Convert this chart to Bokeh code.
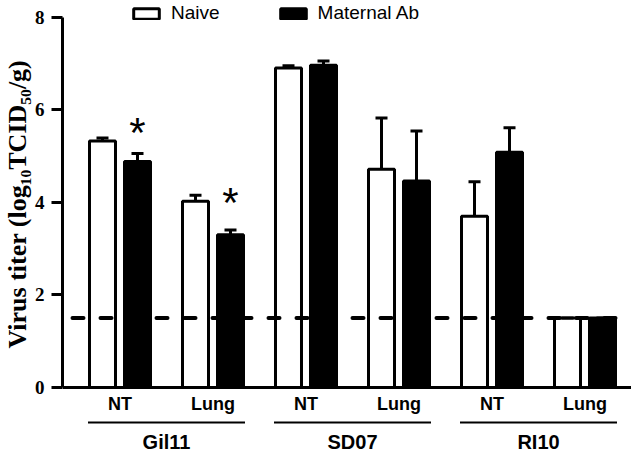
import pandas as pd
from bokeh.plotting import figure
from bokeh.models import (ColumnDataSource, FactorRange, Range1d, FixedTicker, Span,
                          Legend, LegendItem, Title)
from bokeh.transform import dodge
from bokeh.core.properties import value
from bokeh.embed import file_html
from bokeh.resources import INLINE

# ---------------- data ----------------
groups = ["Gil11", "SD07", "RI10"]
tissues = ["NT", "Lung"]
naive = [5.32, 4.02, 6.90, 4.71, 3.70, 1.50]
naive_sem = [0.07, 0.13, 0.05, 1.11, 0.74, 0.00]
maternal = [4.88, 3.30, 6.96, 4.46, 5.08, 1.50]
maternal_sem = [0.17, 0.10, 0.09, 1.08, 0.53, 0.00]
star_cats = [("Gil11", "NT"), ("Gil11", "Lung")]
star_y = [5.64, 4.12]
y_ticks = [0, 2, 4, 6, 8]
detection_limit = 1.5
series_labels = ["Naive", "Maternal Ab"]
y_title = "Virus titer (log\u2081\u2080TCID\u2085\u2080/g)"

factors = [(g, t) for g in groups for t in tissues]
df = pd.DataFrame({"cat": factors, "tissue": [t for g in groups for t in tissues],
                   "naive": naive, "naive_sem": naive_sem,
                   "maternal": maternal, "maternal_sem": maternal_sem})
df["naive_hi"] = df["naive"] + df["naive_sem"]
df["maternal_hi"] = df["maternal"] + df["maternal_sem"]
src = ColumnDataSource(df)
grp_src = ColumnDataSource(dict(group=groups))

# ---------------- layout (pixels) ----------------
FIG_W, FIG_H = 631, 453
FRAME_LEFT = 62
FRAME_W = FIG_W - FRAME_LEFT
AXIS_Y = 387                 # pixel row of y = 0
PX_PER_Y = 370.5 / 8
RP = 0.0197
n = len(factors)
PX_PER_X = FRAME_W / (n * (1 + RP))
Y_END = AXIS_Y / PX_PER_Y
Y_START = -(FIG_H - AXIS_Y) / PX_PER_Y
SHIFT = 5.5 / PX_PER_X       # small horizontal nudge of the whole category layout


def px_y(py):
    return (AXIS_Y - py) / PX_PER_Y


p = figure(width=FIG_W, height=FIG_H, output_backend="svg", toolbar_location=None,
           x_range=FactorRange(*factors, group_padding=0, factor_padding=0,
                               subgroup_padding=0, range_padding=RP),
           y_range=Range1d(Y_START, Y_END),
           min_border_left=FRAME_LEFT, min_border_right=0, min_border_top=0,
           min_border_bottom=0)
p.outline_line_color = None
p.xgrid.visible = False
p.ygrid.visible = False
p.xaxis.visible = False

OFF = 17.5 / PX_PER_X
BW = 26 / PX_PER_X
CAP = 6 / PX_PER_X


def dx(col, d):
    return dodge(col, d + SHIFT, range=p.x_range)


r_naive = p.vbar(x=dx("cat", -OFF), top="naive", bottom=0, width=BW,
                 source=src, fill_color="white", line_color="black", line_width=3)
r_mat = p.vbar(x=dx("cat", OFF), top="maternal", bottom=0, width=BW,
               source=src, fill_color="black", line_color="black", line_width=3)

for off, col in [(-OFF, "naive"), (OFF, "maternal")]:
    p.segment(x0=dx("cat", off), y0=col, x1=dx("cat", off), y1=col + "_hi",
              source=src, line_color="black", line_width=3)
    p.segment(x0=dx("cat", off - CAP), y0=col + "_hi", x1=dx("cat", off + CAP),
              y1=col + "_hi", source=src, line_color="black", line_width=3)

star_src = ColumnDataSource(dict(cat=star_cats, y=star_y, t=["*"] * len(star_cats)))
p.text(x=dx("cat", OFF), y="y", text="t", source=star_src,
       text_font=value("Liberation Sans"), text_font_size="42px", y_offset=6,
       text_align="center", text_baseline="middle", text_color="black")

# x axis line and category labels
p.add_layout(Span(location=0, dimension="width", line_color="black", line_width=3))
p.text(x=dx("cat", 0), y=px_y(403), text="tissue", source=src,
       text_font=value("Liberation Sans"), text_font_style="bold", text_font_size="18px",
       text_align="center", text_baseline="middle", text_color="black")
HALF = 78.5 / PX_PER_X
p.segment(x0=dx("group", -HALF), y0=px_y(422), x1=dx("group", HALF), y1=px_y(422),
          source=grp_src, line_color="black", line_width=2)
p.text(x=dx("group", 0), y=px_y(441), text="group", source=grp_src,
       text_font=value("Liberation Sans"), text_font_style="bold", text_font_size="20px",
       text_align="center", text_baseline="middle", text_color="black")

p.add_layout(Span(location=detection_limit, dimension="width", line_color="black",
                  line_width=4, line_dash="11 17", line_dash_offset=18, line_cap="round"))

# y axis
ya = p.yaxis[0]
ya.ticker = FixedTicker(ticks=y_ticks)
ya.bounds = (0, 8)
ya.axis_line_width = 3
ya.major_tick_line_width = 3
ya.major_tick_out = 11
ya.major_tick_in = 0
ya.minor_tick_out = 0
ya.minor_tick_in = 0
ya.major_label_standoff = 7
ya.major_label_text_font = "Liberation Serif"
ya.major_label_text_font_style = "bold"
ya.major_label_text_font_size = "19px"
ya.major_label_text_color = "black"

p.add_layout(Title(text=y_title, align="left", offset=FIG_H - 348, standoff=0,
                   text_font="Liberation Serif", text_font_style="bold",
                   text_font_size="26px", text_color="black"), "left")

legend = Legend(items=[LegendItem(label=series_labels[0], renderers=[r_naive]),
                       LegendItem(label=series_labels[1], renderers=[r_mat])],
                orientation="horizontal", location=(68, FIG_H - 24),
                glyph_width=32, glyph_height=13, label_standoff=9, spacing=57,
                padding=0, margin=0, border_line_color=None, background_fill_alpha=0,
                label_text_font="Liberation Sans", label_text_font_size="19px",
                label_text_color="black")
p.add_layout(legend)

open("out.html", "w").write(file_html(p, INLINE))
